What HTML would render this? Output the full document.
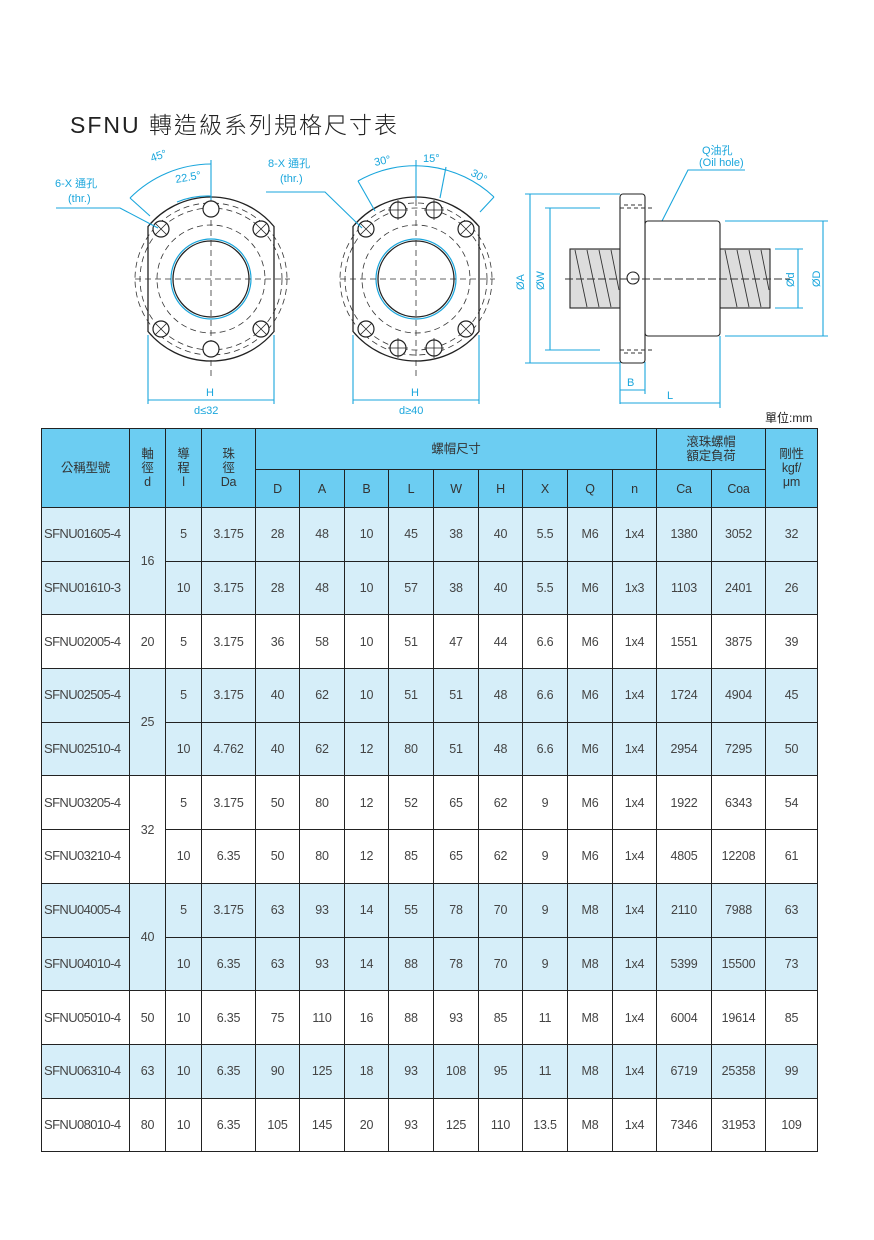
<!DOCTYPE html>
<html><head><meta charset="utf-8">
<style>
body{margin:0;background:#fff;width:874px;height:1240px;position:relative;overflow:hidden;font-family:"Liberation Sans","Noto Sans CJK TC",sans-serif;}
.t{position:absolute;left:41px;top:428px;width:776px;border-collapse:collapse;table-layout:fixed;font-family:"Liberation Sans","Noto Sans CJK TC",sans-serif;font-size:12.5px;color:#444;letter-spacing:-0.2px;}
.t td{border:1px solid #222;text-align:center;padding:0;height:52.7px;line-height:14px;}
.t tr.h td{background:#6ccdf2;color:#333;height:40px;}
.t tr.h2 td{background:#6ccdf2;color:#333;height:37px;}
.t tr.b td{background:#d6eef9;}
.t td.m{text-align:left;padding-left:2px;font-size:13px;letter-spacing:-0.6px;white-space:nowrap;overflow:hidden;}
</style></head><body>
<div style="position:absolute;left:70px;top:106px;font-size:23px;color:#222;letter-spacing:2px;font-family:'Liberation Sans','Noto Sans CJK TC',sans-serif;font-weight:300">SFNU 轉造級系列規格尺寸表</div>
<svg width="874" height="430" style="position:absolute;left:0;top:0" font-family="Liberation Sans, Noto Sans CJK TC, sans-serif">
<g fill="none" stroke="#222" stroke-width="1.3">
<path d="M148,226.5 A82,82 0 0 1 274,226.5 L274,331.5 A82,82 0 0 1 148,331.5 Z"/>
<circle cx="211" cy="279" r="38"/>
<circle cx="416" cy="279" r="38"/>
<path d="M353,226.5 A82,82 0 0 1 479,226.5 L479,331.5 A82,82 0 0 1 353,331.5 Z"/>
</g>
<g fill="none" stroke="#1aa6dc" stroke-width="1.2"><circle cx="211" cy="279" r="40"/><circle cx="416" cy="279" r="40"/></g>
<g fill="none" stroke="#333" stroke-width="0.8" stroke-dasharray="6,4">
<circle cx="211" cy="279" r="54"/><circle cx="211" cy="279" r="71"/><circle cx="211" cy="279" r="76"/>
<circle cx="416" cy="279" r="54"/><circle cx="416" cy="279" r="71"/><circle cx="416" cy="279" r="76"/>
<line x1="135" y1="279" x2="290" y2="279"/><line x1="211" y1="160" x2="211" y2="380"/>
<line x1="340" y1="279" x2="495" y2="279"/><line x1="416" y1="160" x2="416" y2="380"/>
</g>
<g fill="#fff" stroke="#222" stroke-width="1.2">
<circle cx="211" cy="209" r="8"/><circle cx="211" cy="349" r="8"/>
<circle cx="161" cy="229" r="8"/><circle cx="261" cy="229" r="8"/><circle cx="161" cy="329" r="8"/><circle cx="261" cy="329" r="8"/>
<circle cx="398" cy="210" r="8"/><circle cx="434" cy="210" r="8"/><circle cx="398" cy="348" r="8"/><circle cx="434" cy="348" r="8"/>
<circle cx="366" cy="229" r="8"/><circle cx="466" cy="229" r="8"/><circle cx="366" cy="329" r="8"/><circle cx="466" cy="329" r="8"/>
</g>
<g stroke="#222" stroke-width="0.8">
<path d="M155,223l12,12M167,223l-12,12M255,223l12,12M267,223l-12,12M155,323l12,12M167,323l-12,12M255,323l12,12M267,323l-12,12"/>
<path d="M360,223l12,12M372,223l-12,12M460,223l12,12M472,223l-12,12M360,323l12,12M372,323l-12,12M460,323l12,12M472,323l-12,12"/>
<path d="M398,200v20M388,210h20M434,200v20M424,210h20M398,338v20M388,348h20M434,338v20M424,348h20"/>
</g>
<g fill="none" stroke="#1aa6dc" stroke-width="1.1">
<path d="M211,164 A115,115 0 0 0 130,198"/><path d="M211,196 A83,83 0 0 0 177,202"/>
<line x1="211" y1="160" x2="211" y2="200"/><line x1="130" y1="198" x2="150" y2="216"/>
<polyline points="56,208 120,208 158,228"/>
<path d="M358,181 A115,115 0 0 1 494,197"/>
<line x1="416" y1="160" x2="416" y2="200"/><line x1="446" y1="167" x2="440" y2="198"/>
<line x1="358" y1="181" x2="375" y2="211"/><line x1="494" y1="197" x2="480" y2="212"/>
<polyline points="266,192 325,192 362,228"/>
<path d="M148,335V404M274,335V404M148,400H274M353,335V404M479,335V404M353,400H479"/>
<path d="M620,362V404M645,362V394M720,336V408M620,390H645M620,403H720"/>
<path d="M530,194V363M550,208V350M525,194H620M545,208H600M525,363H620M545,350H600M823,221V336M798,249V308M725,221H828M725,336H828M775,249H803M775,308H803"/>
<polyline points="745,170 688,170 636,272"/>
</g>
<g fill="#1aa6dc" font-size="11">
<text x="152" y="162" transform="rotate(-20 152 162)">45°</text>
<text x="176" y="183" transform="rotate(-10 176 183)">22.5°</text>
<text x="55" y="187">6-X 通孔</text><text x="68" y="202">(thr.)</text>
<text x="375" y="166" transform="rotate(-12 375 166)">30°</text>
<text x="423" y="162">15°</text>
<text x="470" y="175" transform="rotate(30 470 175)">30°</text>
<text x="268" y="167">8-X 通孔</text><text x="280" y="182">(thr.)</text>
<text x="206" y="396">H</text><text x="194" y="414">d≤32</text>
<text x="411" y="396">H</text><text x="399" y="414">d≥40</text>
<text x="627" y="386">B</text><text x="667" y="399">L</text>
<text x="702" y="154">Q油孔</text><text x="699" y="166">(Oil hole)</text>
<text x="524" y="290" transform="rotate(-90 524 290)">ØA</text>
<text x="544" y="290" transform="rotate(-90 544 290)">ØW</text>
<text x="794" y="287" transform="rotate(-90 794 287)">Ød</text>
<text x="820" y="287" transform="rotate(-90 820 287)">ØD</text>
</g>
<g stroke="#222" stroke-width="1.1" fill="#ddd">
<rect x="570" y="249" width="50" height="59"/><rect x="720" y="249" width="50" height="59"/>
<rect x="645" y="221" width="75" height="115" fill="#fff" rx="3"/>
<rect x="620" y="194" width="25" height="169" fill="#fff" rx="3"/>
<circle cx="633" cy="278" r="6" fill="#fff"/>
</g>
<g stroke="#333" stroke-width="0.9" fill="none">
<path d="M575,250l12,57M587,250l12,57M599,250l12,57M611,250l8,40M725,250l12,57M737,250l12,57M749,250l12,57M761,250l8,40"/>
<path d="M565,279H790" stroke-dasharray="8,3"/>
<path d="M620,208H652M620,350H652M624,205h20M624,353h20" stroke-dasharray="4,3"/>
</g>
<text x="765" y="422" font-size="12" fill="#222">單位:mm</text>
</svg>
<table class="t">
<colgroup><col style="width:88px"><col style="width:36px"><col style="width:36px"><col style="width:54px"><col style="width:44px"><col style="width:45px"><col style="width:44px"><col style="width:45px"><col style="width:45px"><col style="width:44px"><col style="width:45px"><col style="width:45px"><col style="width:44px"><col style="width:55px"><col style="width:54px"><col style="width:52px"></colgroup>
<tr class="h"><td rowspan="2">公稱型號</td><td rowspan="2">軸<br>徑<br>d</td><td rowspan="2">導<br>程<br>l</td><td rowspan="2">珠<br>徑<br>Da</td><td colspan="9">螺帽尺寸</td><td colspan="2">滾珠螺帽<br>額定負荷</td><td rowspan="2">剛性<br>kgf/<br>μm</td></tr>
<tr class="h2"><td>D</td><td>A</td><td>B</td><td>L</td><td>W</td><td>H</td><td>X</td><td>Q</td><td>n</td><td>Ca</td><td>Coa</td></tr>
<tr class="b"><td class="m">SFNU01605-4</td><td rowspan="2">16</td><td>5</td><td>3.175</td><td>28</td><td>48</td><td>10</td><td>45</td><td>38</td><td>40</td><td>5.5</td><td>M6</td><td>1x4</td><td>1380</td><td>3052</td><td>32</td></tr>
<tr class="b"><td class="m">SFNU01610-3</td><td>10</td><td>3.175</td><td>28</td><td>48</td><td>10</td><td>57</td><td>38</td><td>40</td><td>5.5</td><td>M6</td><td>1x3</td><td>1103</td><td>2401</td><td>26</td></tr>
<tr><td class="m">SFNU02005-4</td><td>20</td><td>5</td><td>3.175</td><td>36</td><td>58</td><td>10</td><td>51</td><td>47</td><td>44</td><td>6.6</td><td>M6</td><td>1x4</td><td>1551</td><td>3875</td><td>39</td></tr>
<tr class="b"><td class="m">SFNU02505-4</td><td rowspan="2">25</td><td>5</td><td>3.175</td><td>40</td><td>62</td><td>10</td><td>51</td><td>51</td><td>48</td><td>6.6</td><td>M6</td><td>1x4</td><td>1724</td><td>4904</td><td>45</td></tr>
<tr class="b"><td class="m">SFNU02510-4</td><td>10</td><td>4.762</td><td>40</td><td>62</td><td>12</td><td>80</td><td>51</td><td>48</td><td>6.6</td><td>M6</td><td>1x4</td><td>2954</td><td>7295</td><td>50</td></tr>
<tr><td class="m">SFNU03205-4</td><td rowspan="2">32</td><td>5</td><td>3.175</td><td>50</td><td>80</td><td>12</td><td>52</td><td>65</td><td>62</td><td>9</td><td>M6</td><td>1x4</td><td>1922</td><td>6343</td><td>54</td></tr>
<tr><td class="m">SFNU03210-4</td><td>10</td><td>6.35</td><td>50</td><td>80</td><td>12</td><td>85</td><td>65</td><td>62</td><td>9</td><td>M6</td><td>1x4</td><td>4805</td><td>12208</td><td>61</td></tr>
<tr class="b"><td class="m">SFNU04005-4</td><td rowspan="2">40</td><td>5</td><td>3.175</td><td>63</td><td>93</td><td>14</td><td>55</td><td>78</td><td>70</td><td>9</td><td>M8</td><td>1x4</td><td>2110</td><td>7988</td><td>63</td></tr>
<tr class="b"><td class="m">SFNU04010-4</td><td>10</td><td>6.35</td><td>63</td><td>93</td><td>14</td><td>88</td><td>78</td><td>70</td><td>9</td><td>M8</td><td>1x4</td><td>5399</td><td>15500</td><td>73</td></tr>
<tr><td class="m">SFNU05010-4</td><td>50</td><td>10</td><td>6.35</td><td>75</td><td>110</td><td>16</td><td>88</td><td>93</td><td>85</td><td>11</td><td>M8</td><td>1x4</td><td>6004</td><td>19614</td><td>85</td></tr>
<tr class="b"><td class="m">SFNU06310-4</td><td>63</td><td>10</td><td>6.35</td><td>90</td><td>125</td><td>18</td><td>93</td><td>108</td><td>95</td><td>11</td><td>M8</td><td>1x4</td><td>6719</td><td>25358</td><td>99</td></tr>
<tr><td class="m">SFNU08010-4</td><td>80</td><td>10</td><td>6.35</td><td>105</td><td>145</td><td>20</td><td>93</td><td>125</td><td>110</td><td>13.5</td><td>M8</td><td>1x4</td><td>7346</td><td>31953</td><td>109</td></tr>
</table>
</body></html>
